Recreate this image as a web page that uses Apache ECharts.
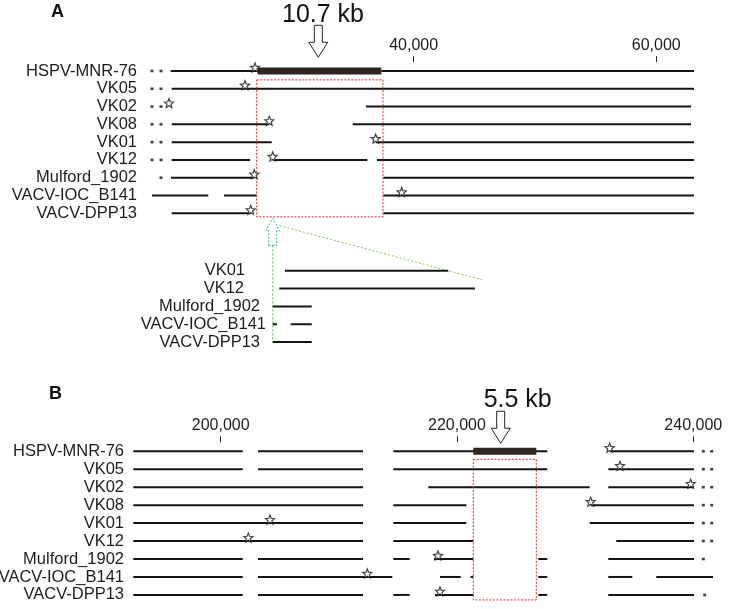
<!DOCTYPE html>
<html>
<head>
<meta charset="utf-8">
<script src="https://cdn.jsdelivr.net/npm/echarts@6/dist/echarts.min.js"></script>
<style>
html, body { margin: 0; padding: 0; background: #fff; }
#chart { width: 729px; height: 609px; }
</style>
</head>
<body>
<div id="chart"></div>
<script>
// genomes, top to bottom
const strains = ['HSPV-MNR-76', 'VK05', 'VK02', 'VK08', 'VK01', 'VK12', 'Mulford_1902', 'VACV-IOC_B141', 'VACV-DPP13'];

// ---- panel A (bp) ----
const segsA = [
  [[19975, 27148], [37337, 63116]],
  [[20058, 63116]],
  [[36076, 62869]],
  [[20058, 28104], [34979, 62869]],
  [[20058, 28302], [36876, 63116]],
  [[20058, 26513], [28384, 36183], [36983, 63116]],
  [[20000, 26867], [37502, 63116]],
  [[18434, 23075], [24369, 27065], [37502, 63116]],
  [[20058, 26571], [37502, 63116]]
];
const starsA = [26925, 26101, 19835, 28104, 36876, 28384, 26867, 39019, 26571];
const dotsA = [[18434, 19176], [18434, 19176], [18434, 19176], [18434, 19176], [18434, 19176], [18434, 19176], [19176], [], []];
const barA = [27148, 37337];
const boxA = [27065, 37477, 0.5, 8.2];
const ticksA = [40000, 60000];
const arrowA = [32143, 32531];   // arrow position, label centre
const sizeA = '10.7 kb';

// ---- inset under A ----
const insetNames = ['VK01', 'VK12', 'Mulford_1902', 'VACV-IOC_B141', 'VACV-DPP13'];
const segsInset = [
  [[29398, 42861]],
  [[28928, 45062]],
  [[28384, 31599]],
  [[28384, 28739], [29868, 31599]],
  [[28384, 31599]]
];

// ---- panel B (bp) ----
const segsB = [
  [[192603, 201862], [203157, 212044], [214609, 227643], [232925, 240060]],
  [[192603, 201862], [203157, 212044], [214609, 227643], [232806, 240060]],
  [[192603, 212044], [217571, 231232], [232806, 240060]],
  [[192603, 212044], [214609, 220788], [231317, 240060]],
  [[192603, 212044], [214609, 220788], [231232, 240060]],
  [[192603, 212044], [214609, 221380], [233484, 240060]],
  [[192603, 201862], [203157, 212044], [214609, 215997], [218054, 221380], [226882, 227643], [232806, 240060]],
  [[192603, 201862], [203157, 214524], [218562, 220314], [221150, 221380], [226882, 227643], [232806, 234838], [236869, 241668]],
  [[192603, 201862], [203157, 212044], [214609, 215997], [218139, 221380], [226882, 227643], [232806, 240060]]
];
const starsB = [232925, 233797, 239781, 231317, 204173, 202336, 218392, 212408, 218562];
const dotsB = [[240847, 241558], [240847, 241558], [240847, 241558], [240847, 241558], [240847, 241558], [240847, 241558], [240847], [], [240966]];
const barB = [221380, 226712];
const boxB = [221380, 226712, 0.45, 8.28];
const ticksB = [200000, 220000, 240000];
const arrowB = [223699, 225138];
const sizeB = '5.5 kb';

const FONT = '"Liberation Sans", Arial, Helvetica, sans-serif';
const INK = '#141414';
const LABEL_SIZE = 16.5;
const insetGap = { 'VK01': 21, 'VK12': 22, 'Mulford_1902': 6, 'VACV-IOC_B141': 0, 'VACV-DPP13': 6 };
const STAR = 'path://M0,-10L2.6,-3.6L9.5,-3.1L4.2,1.4L5.9,8.1L0,4.4L-5.9,8.1L-4.2,1.4L-9.5,-3.1L-2.6,-3.6Z';

function flatSegs(segs) {
  const out = [];
  segs.forEach((row, r) => row.forEach(s => out.push([s[0], r, s[1]])));
  return out;
}
function flatDots(dots) {
  const out = [];
  dots.forEach((row, r) => row.forEach(d => out.push([d, r])));
  return out;
}

function segItem(params, api) {
  const p1 = api.coord([api.value(0), api.value(1)]);
  const p2 = api.coord([api.value(2), api.value(1)]);
  return { type: 'line', shape: { x1: p1[0], y1: p1[1], x2: p2[0], y2: p2[1] }, style: { stroke: INK, lineWidth: 2 } };
}
function barItem(params, api) {
  const p1 = api.coord([api.value(0), 0]);
  const p2 = api.coord([api.value(1), 0]);
  return { type: 'rect', shape: { x: p1[0], y: p1[1] - 3.5, width: p2[0] - p1[0], height: 7 }, style: { fill: '#2e2420' } };
}
function boxItem(params, api) {
  const p0 = api.coord([api.value(0), 0]);
  const p1 = api.coord([api.value(1), 0]);
  const band = api.size([0, 1])[1];
  const y0 = p0[1] + api.value(2) * band;
  const y1 = p0[1] + api.value(3) * band;
  return { type: 'rect', shape: { x: p0[0], y: y0, width: p1[0] - p0[0], height: y1 - y0 },
    style: { fill: 'none', stroke: '#e8262b', lineWidth: 1, lineDash: [2, 1.5] } };
}
function arrowPts(x, y) {
  return [[x - 4, y - 32], [x + 4, y - 32], [x + 4, y - 15], [x + 9.5, y - 15], [x, y], [x - 9.5, y - 15], [x - 4, y - 15]];
}
function annotItem(text, tipDy, textDy) {
  return function (params, api) {
    const tip = api.coord([api.value(0), 0]);
    const tx = api.coord([api.value(1), 0])[0];
    return { type: 'group', children: [
      { type: 'polygon', shape: { points: arrowPts(tip[0], tip[1] + tipDy) }, style: { fill: '#fff', stroke: '#222', lineWidth: 1 } },
      { type: 'text', x: tx, y: tip[1] + textDy, style: { text: text, fontSize: 25, fontFamily: FONT, fill: '#111', align: 'center', verticalAlign: 'middle' } }
    ] };
  };
}

function xAxisTop(grid, min, max, ticks) {
  return {
    gridIndex: grid, type: 'value', min: min, max: max, position: 'top',
    axisLine: { show: false }, splitLine: { show: false },
    axisTick: { show: true, customValues: ticks, length: 6, lineStyle: { color: '#222', width: 1 } },
    axisLabel: { customValues: ticks, margin: 9, fontSize: 16, fontFamily: FONT, color: '#1c1c1c',
      formatter: v => Number(v).toLocaleString('en-US') }
  };
}
function yNames(grid, names, margin, extra) {
  return Object.assign({
    gridIndex: grid, type: 'category', data: names, inverse: true,
    axisLine: { show: false }, axisTick: { show: false }, splitLine: { show: false },
    axisLabel: { interval: 0, margin: margin, fontSize: LABEL_SIZE, fontFamily: FONT, color: '#1c1c1c' }
  }, extra || {});
}

function markSeries(idx, segs, stars, dots) {
  const list = [
    { type: 'custom', xAxisIndex: idx, yAxisIndex: idx, renderItem: segItem, data: flatSegs(segs), encode: { x: [0, 2], y: 1 }, z: 2 },
    { type: 'scatter', xAxisIndex: idx, yAxisIndex: idx, data: flatDots(dots), symbol: 'rect', symbolSize: [3, 2.6], itemStyle: { color: INK }, z: 2 }
  ];
  if (stars) {
    list.push({ type: 'scatter', xAxisIndex: idx, yAxisIndex: idx, data: stars.map((s, r) => [s, r]),
      symbol: STAR, symbolSize: 9, symbolOffset: [0, -3.5], itemStyle: { color: '#fff', borderColor: INK, borderWidth: 1.2 }, z: 5 });
  }
  return list;
}

const insetRich = {};
Object.values(insetGap).forEach(g => { insetRich['g' + g] = { width: g }; });

const chart = echarts.init(document.getElementById('chart'), null, { renderer: 'canvas' });
const option = {
  animation: false,
  backgroundColor: '#fff',
  grid: [
    { left: 140, right: 0, top: 62.1, height: 160.1, outerBoundsMode: 'none' },
    { left: 266, right: 0, top: 261.8, height: 89.2, outerBoundsMode: 'none' },
    { left: 127, right: 0, top: 442.3, height: 161.6, outerBoundsMode: 'none' }
  ],
  xAxis: [
    xAxisTop(0, 17444, 66001, ticksA),
    { gridIndex: 1, type: 'value', min: 27832, max: 66001, show: false },
    xAxisTop(2, 192069, 243023, ticksB)
  ],
  yAxis: [
    yNames(0, strains, 3),
    yNames(1, insetNames, 0, { axisLabel: { interval: 0, margin: 0, fontSize: LABEL_SIZE, fontFamily: FONT, color: '#1c1c1c',
      formatter: v => v + '{g' + insetGap[v] + '| }', rich: insetRich } }),
    yNames(2, strains, 3)
  ],
  series: [].concat(
    markSeries(0, segsA, starsA, dotsA),
    markSeries(1, segsInset, null, []),
    markSeries(2, segsB, starsB, dotsB),
    [
      { type: 'custom', xAxisIndex: 0, yAxisIndex: 0, renderItem: barItem, data: [barA], z: 3 },
      { type: 'custom', xAxisIndex: 2, yAxisIndex: 2, renderItem: barItem, data: [barB], z: 3 },
      { type: 'custom', xAxisIndex: 0, yAxisIndex: 0, renderItem: boxItem, data: [boxA], z: 4 },
      { type: 'custom', xAxisIndex: 2, yAxisIndex: 2, renderItem: boxItem, data: [boxB], z: 4 },
      { type: 'custom', xAxisIndex: 0, yAxisIndex: 0, renderItem: annotItem(sizeA, -13.7, -56), data: [arrowA], z: 4 },
      { type: 'custom', xAxisIndex: 2, yAxisIndex: 2, renderItem: annotItem(sizeB, -8, -51.6), data: [arrowB], z: 4 }
    ]
  )
};
chart.setOption(option);

// zoom guide from the A box to the inset
const insetX = chart.convertToPixel({ xAxisIndex: 1 }, segsInset[2][0][0]);
const rowA0 = chart.convertToPixel({ yAxisIndex: 0 }, 0);
const rowA1 = chart.convertToPixel({ yAxisIndex: 0 }, 1);
const boxBottom = rowA0 + boxA[3] * (rowA1 - rowA0);
const insetLast = chart.convertToPixel({ yAxisIndex: 1 }, insetNames.length - 1);
const vk01End = [chart.convertToPixel({ xAxisIndex: 1 }, segsInset[0][0][1]), chart.convertToPixel({ yAxisIndex: 1 }, 0)];
const tipY = boxBottom + 1.5;
const gStart = [insetX + 7, tipY + 7.4];
const gEnd = [gStart[0] + (vk01End[0] - gStart[0]) * 1.2, gStart[1] + (vk01End[1] - gStart[1]) * 1.2];

chart.setOption({
  graphic: [
    { type: 'text', left: 51, top: 3, style: { text: 'A', fontSize: 18, fontWeight: 'bold', fontFamily: FONT, fill: '#111' } },
    { type: 'text', left: 49, top: 385, style: { text: 'B', fontSize: 18, fontWeight: 'bold', fontFamily: FONT, fill: '#111' } },
    { type: 'line', shape: { x1: insetX, y1: tipY + 27, x2: insetX, y2: insetLast }, style: { stroke: '#5cbf3f', lineWidth: 1, lineDash: [2, 2] } },
    { type: 'line', shape: { x1: gStart[0], y1: gStart[1], x2: gEnd[0], y2: gEnd[1] }, style: { stroke: '#7cc84a', lineWidth: 1, lineDash: [2, 2] } },
    { type: 'polygon', shape: { points: [[insetX - 4, tipY + 27], [insetX + 4, tipY + 27], [insetX + 4, tipY + 12.5], [insetX + 7, tipY + 12.5], [insetX, tipY], [insetX - 7, tipY + 12.5], [insetX - 4, tipY + 12.5]] },
      style: { fill: '#fff', stroke: '#36ad92', lineWidth: 1, lineDash: [2, 1.5] } }
  ]
});
</script>
</body>
</html>
